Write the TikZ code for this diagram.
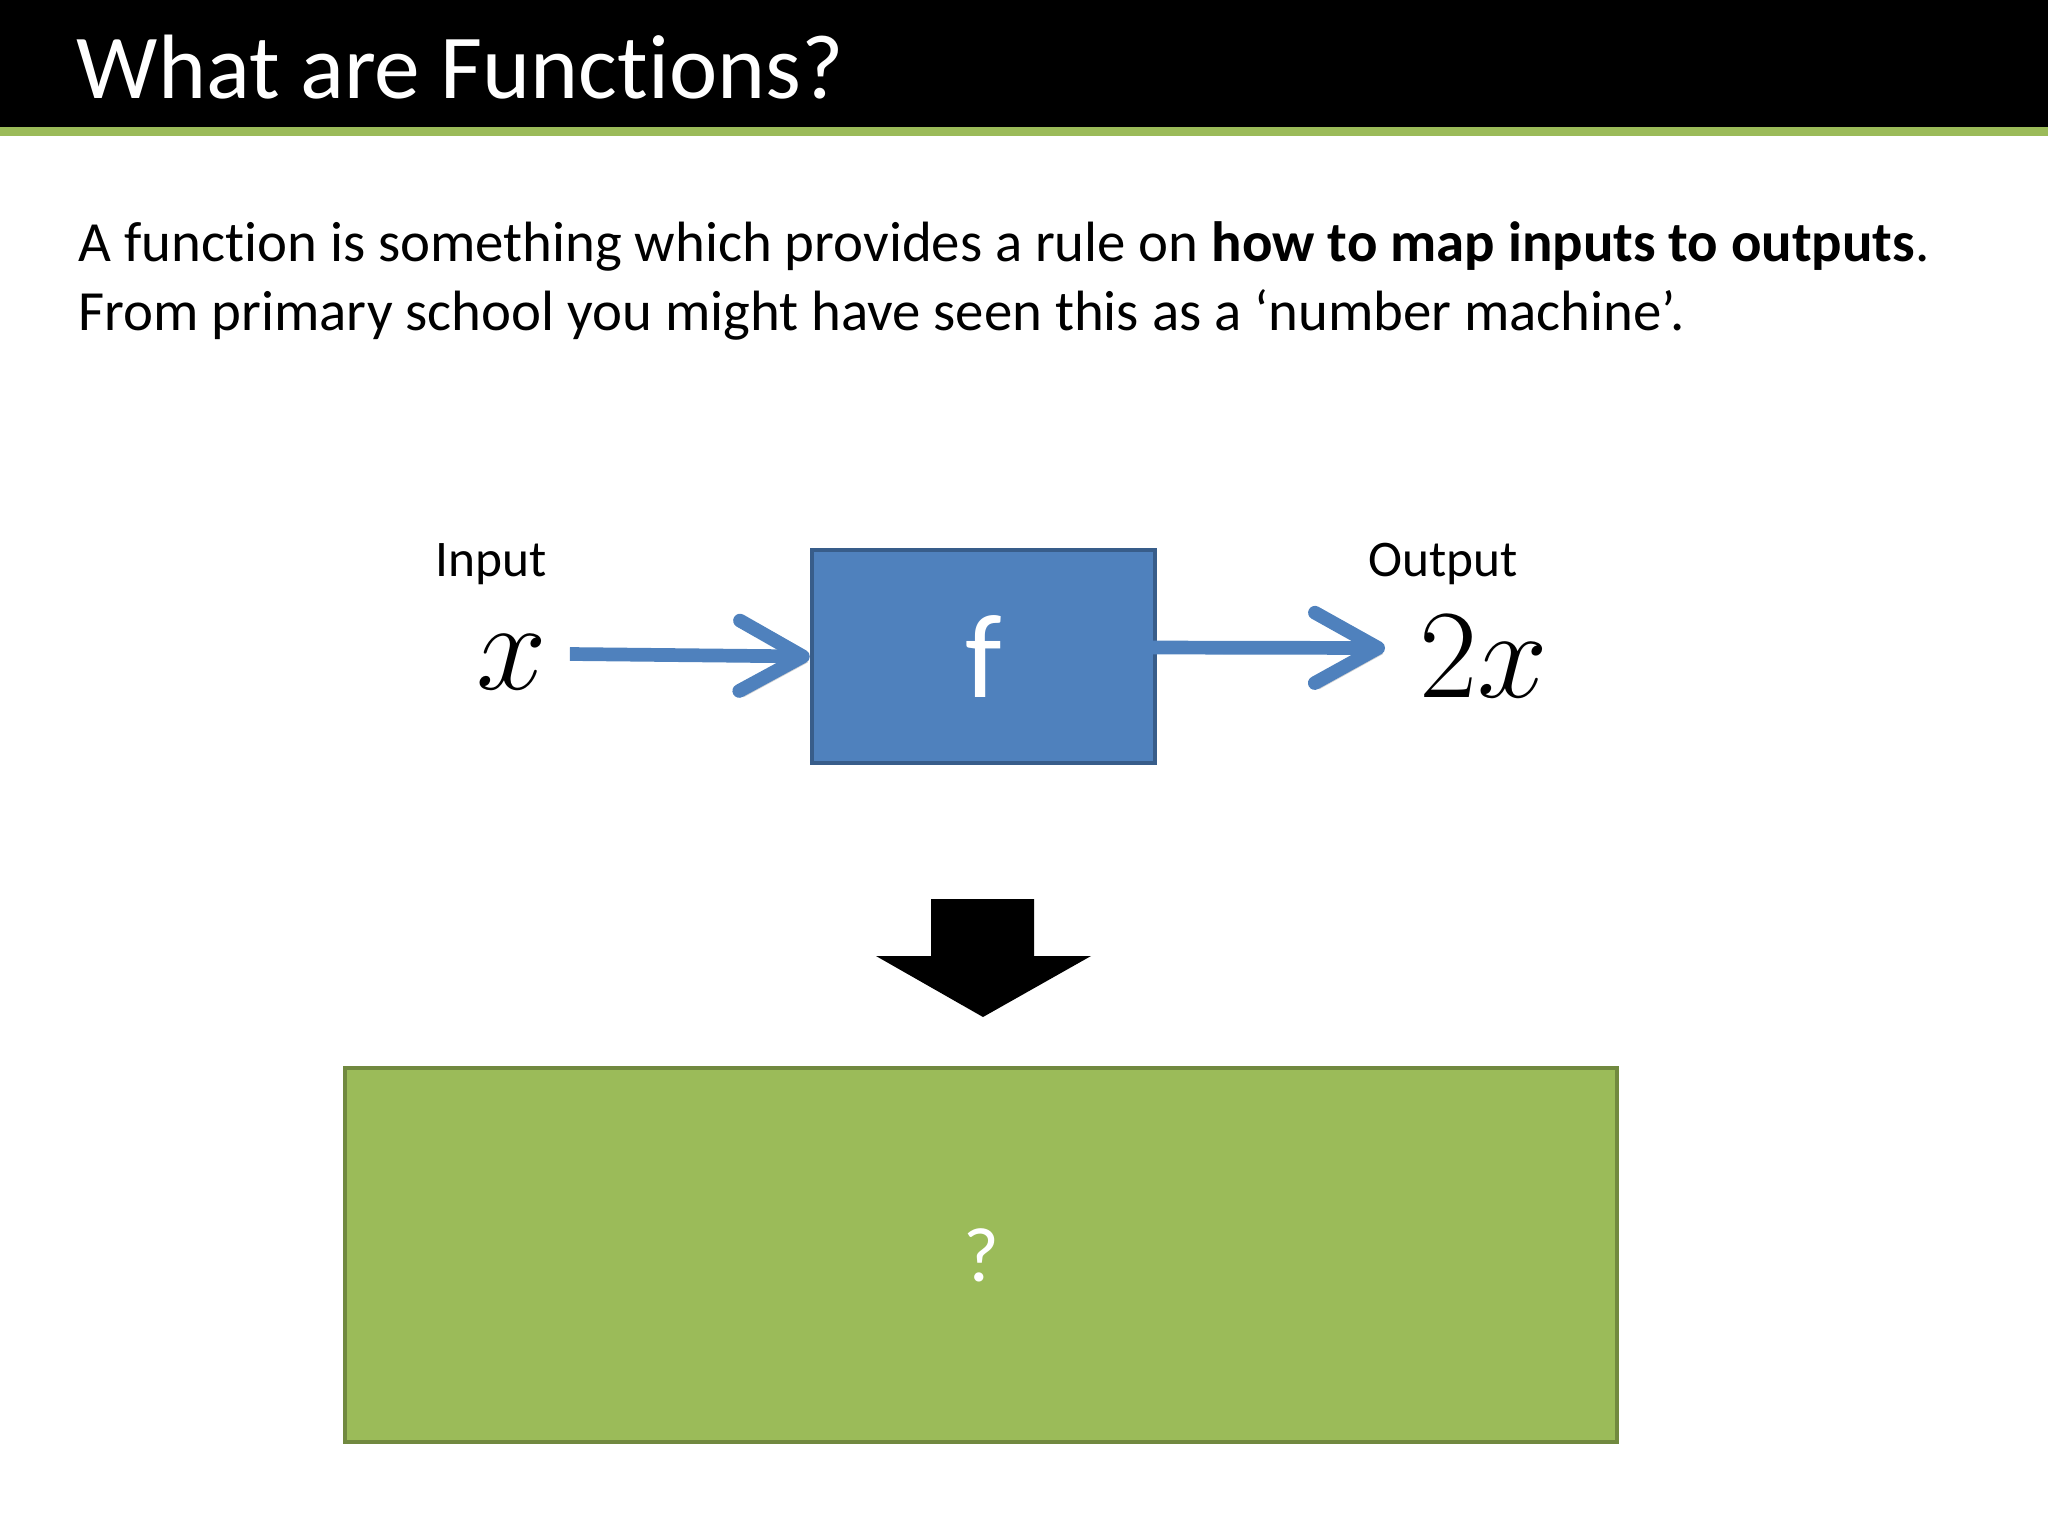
\RequirePackage{fix-cm}
\documentclass[tikz,border=0pt]{standalone}
\usepackage{fontspec}
\setmainfont{Carlito}[Ligatures=NoCommon]
\usetikzlibrary{arrows.meta,calc}

\definecolor{slideblue}{HTML}{4F81BD}
\definecolor{slideblueedge}{HTML}{385D8A}
\definecolor{slidegreen}{HTML}{9BBB59}
\definecolor{slidegreenedge}{HTML}{71893F}

\tikzset{
  machine/.style={draw=slideblueedge, fill=slideblue, line width=1.2pt, minimum width=3.43cm, minimum height=2.13cm, text=white, font=\fontsize{34}{40}\selectfont},
  answer/.style={draw=slidegreenedge, fill=slidegreen, line width=1.2pt, minimum width=12.72cm, minimum height=3.74cm, text=white, font=\fontsize{22}{26}\selectfont},
  flow/.style={slideblue, line width=3.9pt, -{Straight Barb[length=18pt, width=20pt, round]},
    preaction={draw=black, opacity=0.18, transform canvas={xshift=1.2pt, yshift=-1.6pt}}},
  label/.style={font=\fontsize{14.6}{17}\selectfont, inner sep=0, anchor=base},
  body/.style={font=\fontsize{16.15}{19}\selectfont, inner sep=0, anchor=base west},
  mathbig/.style={font=\fontsize{36}{40}\selectfont, inner sep=0}
}

\begin{document}
\begin{tikzpicture}[x=0.01cm, y=-0.01cm]
\useasboundingbox (0,0) rectangle (2048,1536);

% title bar
\fill[black] (0,0) rectangle (2048,127);
\fill[slidegreen] (0,127) rectangle (2048,136);
\node[anchor=base west, inner sep=0, text=white, font=\fontsize{26}{30}\selectfont] (title) at (76,98) {What are Functions?};

\node[body] (line1) at (78,261) {A function is something which provides a rule on \textbf{how to map inputs to outputs}.};
\node[body] (line2) at (78,330) {From primary school you might have seen this as a ‘number machine’.};

% number machine
\node[machine] (f) at (983.5,656.5) {f};
\node[mathbig] (in) at (512,662) {$x$};
\node[mathbig] (out) at (1484,657) {$2x$};
\node[label] (inlabel) at (491,576) {Input};
\node[label] (outlabel) at (1443,576) {Output};

\draw[flow] ($(in.east)+(22,-8)$) -- (f.west);
\draw[flow] ($(f.east)+(-16,-9)$) -- ($(out.west)+(-34,-9)$);

% big arrow down
\fill[black] (931,899) -- (1034,899) -- (1034,956) -- (1091,956) -- (983,1017) -- (876,956) -- (931,956) -- cycle;

\node[answer] (result) at (981,1255) {?};
\end{tikzpicture}
\end{document}
